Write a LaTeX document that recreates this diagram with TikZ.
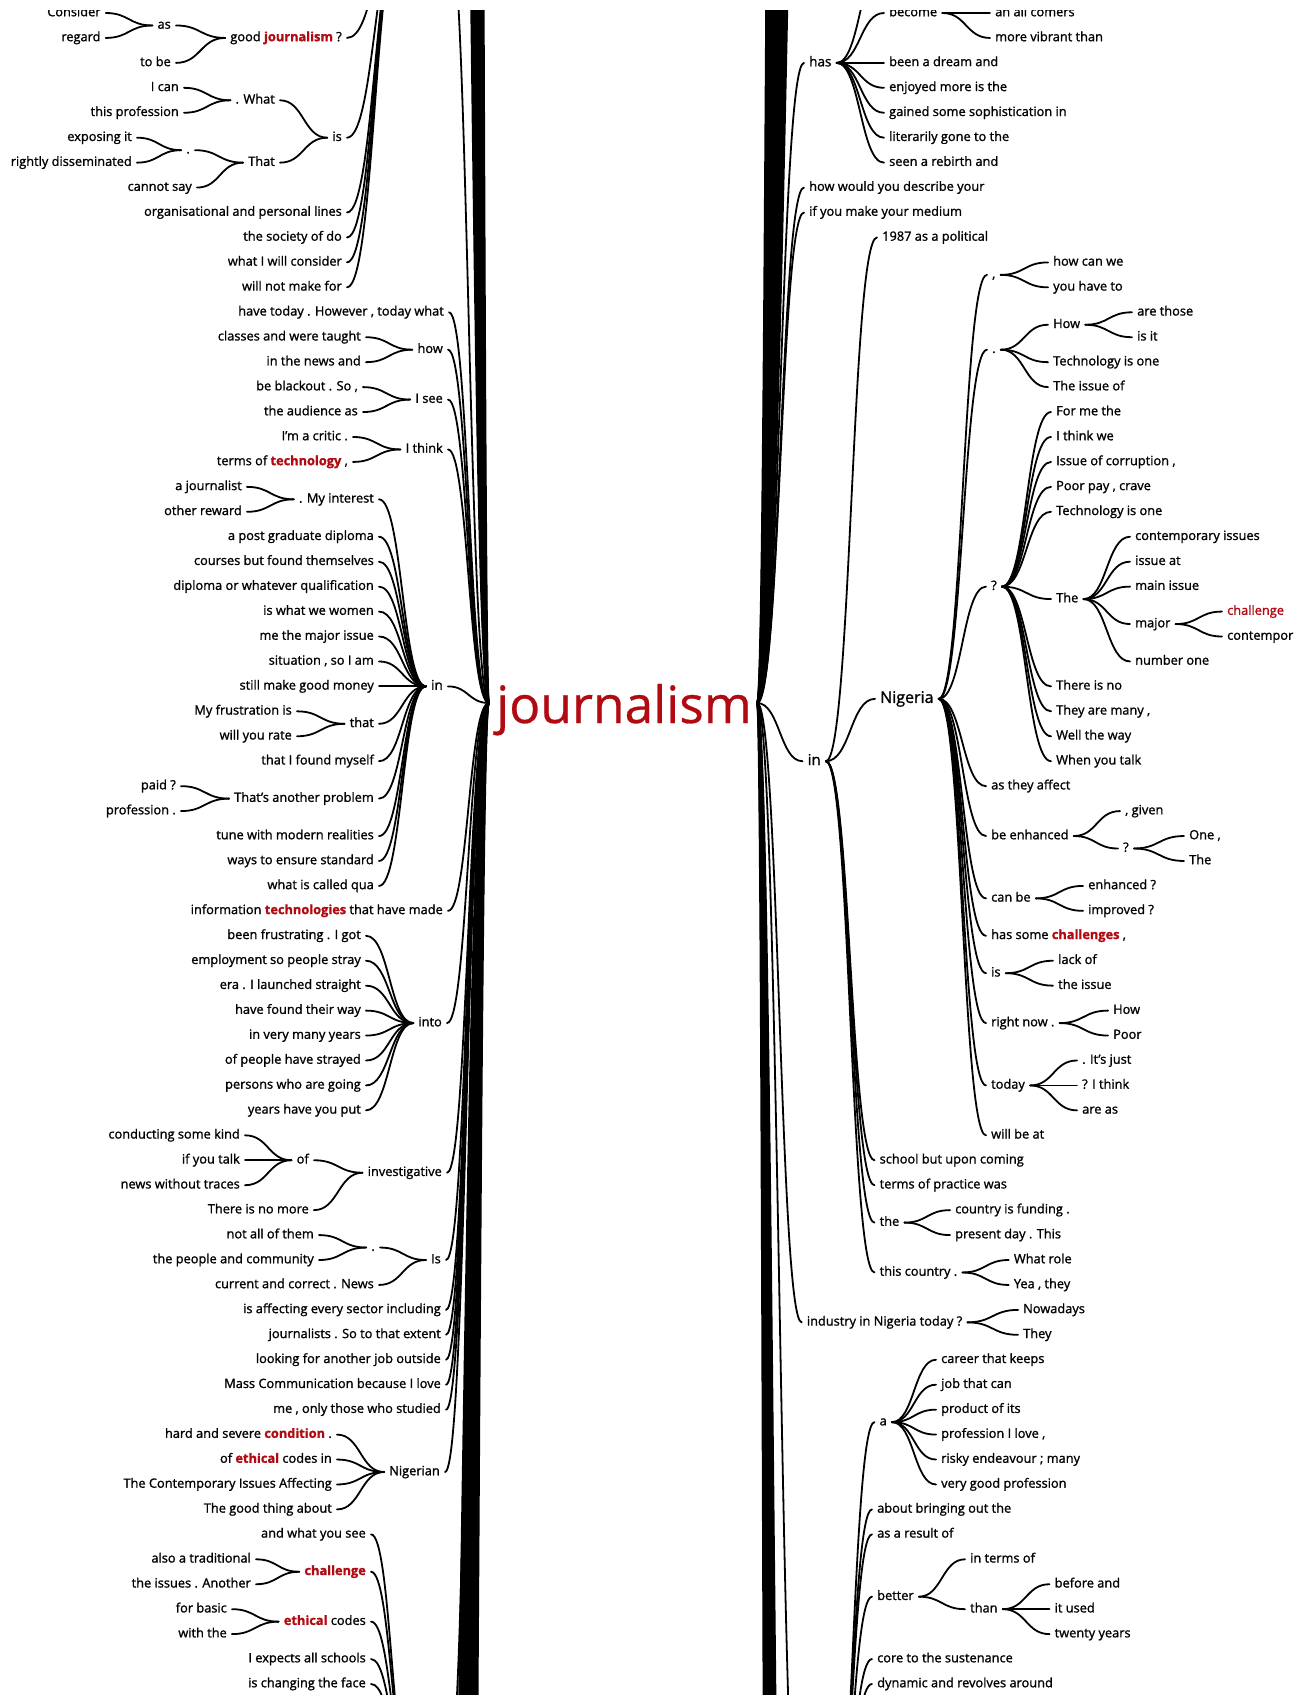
\documentclass[tikz,border=0pt]{standalone}
\usepackage{fontspec}
\setmainfont{Open Sans}
\usetikzlibrary{calc}
\definecolor{jred}{RGB}{178,10,18}
\newcommand\hl[1]{\textcolor{jred}{\bfseries #1}}
\newcommand\R[1]{{13+24.94*(#1)}}
\newcommand\wt[2]{\draw[wire] let \p1=(#1), \p2=(#2) in (\p1) .. controls ({0.5*\x1+0.5*\x2},\y1) and ({0.5*\x1+0.5*\x2},\y2) .. (\p2);}
\tikzset{
 w/.style={font=\fontsize{12.8}{15}\selectfont\addfontfeature{FakeBold=1.3}, inner xsep=5pt, inner ysep=1pt, text height=9.2pt, text depth=2.7pt},
 wl/.style={w, anchor=east},
 wr/.style={w, anchor=west},
 bA/.style={font=\fontsize{13.5}{16}\selectfont\addfontfeature{FakeBold=1.3}, text height=9.7pt, text depth=2.8pt},
 bB/.style={font=\fontsize{15}{18}\selectfont\addfontfeature{FakeBold=1.3}, text height=10.8pt, text depth=3.2pt},
 bC/.style={font=\fontsize{16}{19}\selectfont\addfontfeature{FakeBold=1.3}, text height=11.5pt, text depth=3.4pt},
 wire/.style={line width=1.8pt, line cap=round},
}
\begin{document}
\begin{tikzpicture}[x=1pt,y=-1pt]
\useasboundingbox (0,0) rectangle (1311,1695);
\fill[white] (0,0) rectangle (1311,1695);
\begin{scope}
\clip (0,10) rectangle (1311,1695);
% ---------- root ----------
\node[font=\fontsize{51.5}{55}\selectfont\addfontfeature{FakeBold=0.5}, text=jred, inner sep=0pt, anchor=base west] (root) at (496,723) {journalism};
\coordinate (rootL) at (489,703);
\coordinate (rootR) at (757,703);
% ---------- off-screen anchors ----------
\coordinate (pAl) at (403,-80);
\coordinate (pAr) at (448,-80);
\coordinate (pBl) at (412,1780);
\coordinate (pBr) at (448,1780);
\coordinate (pCl) at (802,1900);
\coordinate (pCr) at (830,1900);
\coordinate (hasX) at (884,-40);
% ---------- left nodes ----------
\node[wl] (L1) at (105.7,\R{0}) {Consider};
\node[wl] (L2) at (105.7,\R{1}) {regard};
\node[wl] (L3) at (176,\R{0.5}) {as};
\node[wl] (L4) at (176,\R{2}) {to be};
\node[wl] (L5) at (347,\R{1}) {good \hl{journalism} ?};
\node[wl] (L6) at (184,\R{3}) {I can};
\node[wl] (L7) at (184,\R{4}) {this profession};
\node[wl] (L8) at (280,\R{3.5}) {. What};
\node[wl] (L9) at (137,\R{5}) {exposing it};
\node[wl] (L10) at (137,\R{6}) {rightly disseminated};
\node[wl] (L11) at (195,\R{5.5}) {.};
\node[wl] (L12) at (280,\R{6}) {That};
\node[wl] (L13) at (197,\R{7}) {cannot say};
\node[wl] (L14) at (347,\R{5}) {is};
\node[wl] (L15) at (347,\R{8}) {organisational and personal lines};
\node[wl] (L16) at (347,\R{9}) {the society of do};
\node[wl] (L17) at (347,\R{10}) {what I will consider};
\node[wl] (L18) at (347,\R{11}) {will not make for};
\node[wl] (L19) at (449,\R{12}) {have today . However , today what};
\node[wl] (L20) at (366,\R{13}) {classes and were taught};
\node[wl] (L21) at (366,\R{14}) {in the news and};
\node[wl] (L22) at (448,\R{13.5}) {how};
\node[wl] (L23) at (363,\R{15}) {be blackout . So ,};
\node[wl] (L24) at (363,\R{16}) {the audience as};
\node[wl] (L25) at (448,\R{15.5}) {I see};
\node[wl] (L26) at (353,\R{17}) {I’m a critic .};
\node[wl] (L27) at (353,\R{18}) {terms of \hl{technology} ,};
\node[wl] (L28) at (448,\R{17.5}) {I think};
\node[wl] (L29) at (247,\R{19}) {a journalist};
\node[wl] (L30) at (247,\R{20}) {other reward};
\node[wl] (L31) at (379,\R{19.5}) {. My interest};
\node[wl] (L32) at (379,\R{21}) {a post graduate diploma};
\node[wl] (L33) at (379,\R{22}) {courses but found themselves};
\node[wl] (L34) at (379,\R{23}) {diploma or whatever qualification};
\node[wl] (L35) at (379,\R{24}) {is what we women};
\node[wl] (L36) at (379,\R{25}) {me the major issue};
\node[wl] (L37) at (379,\R{26}) {situation , so I am};
\node[wl] (L38) at (379,\R{27}) {still make good money};
\node[wl,bA] (L39) at (448,\R{27}) {in};
\node[wl] (L40) at (297,\R{28}) {My frustration is};
\node[wl] (L41) at (297,\R{29}) {will you rate};
\node[wl] (L42) at (379,\R{28.5}) {that};
\node[wl] (L43) at (379,\R{30}) {that I found myself};
\node[wl] (L44) at (181,\R{31}) {paid ?};
\node[wl] (L45) at (181,\R{32}) {profession .};
\node[wl] (L46) at (379,\R{31.5}) {That’s another problem};
\node[wl] (L47) at (379,\R{33}) {tune with modern realities};
\node[wl] (L48) at (379,\R{34}) {ways to ensure standard};
\node[wl] (L49) at (379,\R{35}) {what is called qua};
\node[wl] (L50) at (448,\R{36}) {information \hl{technologies} that have made};
\node[wl] (L51) at (366,\R{37}) {been frustrating . I got};
\node[wl] (L52) at (366,\R{38}) {employment so people stray};
\node[wl] (L53) at (366,\R{39}) {era . I launched straight};
\node[wl] (L54) at (366,\R{40}) {have found their way};
\node[wl] (L55) at (366,\R{41}) {in very many years};
\node[wl] (L56) at (366,\R{42}) {of people have strayed};
\node[wl] (L57) at (366,\R{43}) {persons who are going};
\node[wl] (L58) at (366,\R{44}) {years have you put};
\node[wl] (L59) at (447,\R{40.5}) {into};
\node[wl] (L60) at (245,\R{45}) {conducting some kind};
\node[wl] (L61) at (245,\R{46}) {if you talk};
\node[wl] (L62) at (245,\R{47}) {news without traces};
\node[wl] (L63) at (314,\R{46}) {of};
\node[wl] (L64) at (314,\R{48}) {There is no more};
\node[wl] (L65) at (447,\R{46.5}) {investigative};
\node[wl] (L66) at (319,\R{49}) {not all of them};
\node[wl] (L67) at (319,\R{50}) {the people and community};
\node[wl] (L68) at (380,\R{49.5}) {.};
\node[wl] (L69) at (379,\R{51}) {current and correct . News};
\node[wl] (L70) at (446,\R{50}) {Is};
\node[wl] (L71) at (446,\R{52}) {is affecting every sector including};
\node[wl] (L72) at (446,\R{53}) {journalists . So to that extent};
\node[wl] (L73) at (446,\R{54}) {looking for another job outside};
\node[wl] (L74) at (446,\R{55}) {Mass Communication because I love};
\node[wl] (L75) at (446,\R{56}) {me , only those who studied};
\node[wl] (L76) at (337,\R{57}) {hard and severe \hl{condition} .};
\node[wl] (L77) at (337,\R{58}) {of \hl{ethical} codes in};
\node[wl] (L78) at (337,\R{59}) {The Contemporary Issues Affecting};
\node[wl] (L79) at (337,\R{60}) {The good thing about};
\node[wl] (L80) at (445,\R{58.5}) {Nigerian};
\node[wl] (L81) at (371,\R{61}) {and what you see};
\node[wl] (L82) at (256,\R{62}) {also a traditional};
\node[wl] (L83) at (256,\R{63}) {the issues . Another};
\node[wl] (L84) at (371,\R{62.5}) {\hl{challenge}};
\node[wl] (L85) at (232,\R{64}) {for basic};
\node[wl] (L86) at (232,\R{65}) {with the};
\node[wl] (L87) at (371,\R{64.5}) {\hl{ethical} codes};
\node[wl] (L88) at (371,\R{66}) {I expects all schools};
\node[wl] (L89) at (371,\R{67}) {is changing the face};
% ---------- right nodes ----------
\node[wr,bA] (R1) at (804,\R{2}) {has};
\node[wr] (R2) at (884,\R{0}) {become};
\node[wr] (R3) at (990,\R{0}) {an all comers};
\node[wr] (R4) at (990,\R{1}) {more vibrant than};
\node[wr] (R5) at (884,\R{2}) {been a dream and};
\node[wr] (R6) at (884,\R{3}) {enjoyed more is the};
\node[wr] (R7) at (884,\R{4}) {gained some sophistication in};
\node[wr] (R8) at (884,\R{5}) {literarily gone to the};
\node[wr] (R9) at (884,\R{6}) {seen a rebirth and};
\node[wr] (R10) at (804,\R{7}) {how would you describe your};
\node[wr] (R11) at (804,\R{8}) {if you make your medium};
\node[wr,bB] (R0) at (802.5,\R{30}) {in};
\node[wr] (R12) at (877,\R{9}) {1987 as a political};
\node[wr,bC] (R40) at (875,\R{27.5}) {Nigeria};
\node[wr] (R13) at (987,\R{10.5}) {,};
\node[wr] (R14) at (1048,\R{10}) {how can we};
\node[wr] (R15) at (1048,\R{11}) {you have to};
\node[wr] (R16) at (987,\R{13.5}) {.};
\node[wr] (R17) at (1048,\R{12.5}) {How};
\node[wr] (R18) at (1132,\R{12}) {are those};
\node[wr] (R19) at (1132,\R{13}) {is it};
\node[wr] (R20) at (1048,\R{14}) {Technology is one};
\node[wr] (R21) at (1048,\R{15}) {The issue of};
\node[wr] (R22) at (986,\R{23}) {?};
\node[wr] (R23) at (1051,\R{16}) {For me the};
\node[wr] (R24) at (1051,\R{17}) {I think we};
\node[wr] (R25) at (1051,\R{18}) {Issue of corruption ,};
\node[wr] (R26) at (1051,\R{19}) {Poor pay , crave};
\node[wr] (R27) at (1051,\R{20}) {Technology is one};
\node[wr] (R28) at (1051,\R{23.5}) {The};
\node[wr] (R29) at (1130,\R{21}) {contemporary issues};
\node[wr] (R30) at (1130,\R{22}) {issue at};
\node[wr] (R31) at (1130,\R{23}) {main issue};
\node[wr] (R32) at (1130,\R{24.5}) {major};
\node[wr] (R33) at (1222,\R{24}) {\textcolor{jred}{challenge}};
\node[wr] (R34) at (1222,\R{25}) {contempor};
\node[wr] (R35) at (1130,\R{26}) {number one};
\node[wr] (R36) at (1051,\R{27}) {There is no};
\node[wr] (R37) at (1051,\R{28}) {They are many ,};
\node[wr] (R38) at (1051,\R{29}) {Well the way};
\node[wr] (R39) at (1051,\R{30}) {When you talk};
\node[wr] (R41) at (986,\R{31}) {as they affect};
\node[wr] (R42) at (986,\R{33}) {be enhanced};
\node[wr] (R43) at (1120,\R{32}) {, given};
\node[wr] (R44) at (1118,\R{33.5}) {?};
\node[wr] (R45) at (1184,\R{33}) {One ,};
\node[wr] (R46) at (1184,\R{34}) {The};
\node[wr] (R47) at (986,\R{35.5}) {can be};
\node[wr] (R48) at (1083,\R{35}) {enhanced ?};
\node[wr] (R49) at (1083,\R{36}) {improved ?};
\node[wr] (R50) at (986,\R{37}) {has some \hl{challenges} ,};
\node[wr] (R51) at (986,\R{38.5}) {is};
\node[wr] (R52) at (1053,\R{38}) {lack of};
\node[wr] (R53) at (1053,\R{39}) {the issue};
\node[wr] (R54) at (986,\R{40.5}) {right now .};
\node[wr] (R55) at (1108,\R{40}) {How};
\node[wr] (R56) at (1108,\R{41}) {Poor};
\node[wr] (R57) at (986,\R{43}) {today};
\node[wr] (R58) at (1077,\R{42}) {. It’s just};
\node[wr] (R59) at (1077,\R{43}) {? I think};
\node[wr] (R60) at (1077,\R{44}) {are as};
\node[wr] (R61) at (986,\R{45}) {will be at};
\node[wr] (R62) at (874.5,\R{46}) {school but upon coming};
\node[wr] (R63) at (874.5,\R{47}) {terms of practice was};
\node[wr] (R64) at (874.5,\R{48.5}) {the};
\node[wr] (R65) at (950,\R{48}) {country is funding .};
\node[wr] (R66) at (950,\R{49}) {present day . This};
\node[wr] (R67) at (874.5,\R{50.5}) {this country .};
\node[wr] (R68) at (1008.7,\R{50}) {What role};
\node[wr] (R69) at (1008.7,\R{51}) {Yea , they};
\node[wr] (R70) at (801.7,\R{52.5}) {industry in Nigeria today ?};
\node[wr] (R71) at (1018,\R{52}) {Nowadays};
\node[wr] (R72) at (1018,\R{53}) {They};
\node[wr] (R73) at (874.5,\R{56.5}) {a};
\node[wr] (R74) at (936,\R{54}) {career that keeps};
\node[wr] (R75) at (936,\R{55}) {job that can};
\node[wr] (R76) at (936,\R{56}) {product of its};
\node[wr] (R77) at (936,\R{57}) {profession I love ,};
\node[wr] (R78) at (936,\R{58}) {risky endeavour ; many};
\node[wr] (R79) at (936,\R{59}) {very good profession};
\node[wr] (R80) at (872,\R{60}) {about bringing out the};
\node[wr] (R81) at (872,\R{61}) {as a result of};
\node[wr] (R82) at (872,\R{63.5}) {better};
\node[wr] (R83) at (965,\R{62}) {in terms of};
\node[wr] (R84) at (965,\R{64}) {than};
\node[wr] (R85) at (1049.5,\R{63}) {before and};
\node[wr] (R86) at (1049.5,\R{64}) {it used};
\node[wr] (R87) at (1049.5,\R{65}) {twenty years};
\node[wr] (R88) at (872,\R{66}) {core to the sustenance};
\node[wr] (R89) at (872,\R{67}) {dynamic and revolves around};
% ---------- left connectors ----------
\foreach \c in {L1,L2} {\wt{\c.east}{L3.west}}
\foreach \c in {L3,L4} {\wt{\c.east}{L5.west}}
\foreach \c in {L6,L7} {\wt{\c.east}{L8.west}}
\foreach \c in {L9,L10} {\wt{\c.east}{L11.west}}
\foreach \c in {L11,L13} {\wt{\c.east}{L12.west}}
\foreach \c in {L8,L12} {\wt{\c.east}{L14.west}}
\foreach \c in {L5,L14,L15,L16,L17,L18} {\wt{\c.east}{pAl}}
\foreach \c in {L20,L21} {\wt{\c.east}{L22.west}}
\foreach \c in {L23,L24} {\wt{\c.east}{L25.west}}
\foreach \c in {L26,L27} {\wt{\c.east}{L28.west}}
\foreach \c in {L29,L30} {\wt{\c.east}{L31.west}}
\foreach \c in {L40,L41} {\wt{\c.east}{L42.west}}
\foreach \c in {L44,L45} {\wt{\c.east}{L46.west}}
\foreach \c in {L31,L32,L33,L34,L35,L36,L37,L38,L42,L43,L46,L47,L48,L49} {\wt{\c.east}{L39.west}}
\foreach \c in {L51,L52,L53,L54,L55,L56,L57,L58} {\wt{\c.east}{L59.west}}
\foreach \c in {L60,L61,L62} {\wt{\c.east}{L63.west}}
\foreach \c in {L63,L64} {\wt{\c.east}{L65.west}}
\foreach \c in {L66,L67} {\wt{\c.east}{L68.west}}
\foreach \c in {L68,L69} {\wt{\c.east}{L70.west}}
\foreach \c in {L76,L77,L78,L79} {\wt{\c.east}{L80.west}}
\foreach \c in {L82,L83} {\wt{\c.east}{L84.west}}
\foreach \c in {L85,L86} {\wt{\c.east}{L87.west}}
\foreach \c in {L81,L84,L87,L88,L89} {\wt{\c.east}{pBl}}
\foreach \c in {L19,L22,L25,L28,L39,L50,L59,L65,L70,L71,L72,L73,L74,L75,L80} {\wt{\c.east}{rootL}}
\wt{pAr}{rootL}
\wt{pBr}{rootL}
% ---------- right connectors ----------
\foreach \c in {R1,R10,R11,R0,R70} {\wt{rootR}{\c.west}}
\wt{rootR}{pCl}
\foreach \c in {R2,R5,R6,R7,R8,R9} {\wt{R1.east}{\c.west}}
\wt{R1.east}{hasX}
\foreach \c in {R3,R4} {\wt{R2.east}{\c.west}}
\foreach \c in {R12,R40,R62,R63,R64,R67} {\wt{R0.east}{\c.west}}
\foreach \c in {R13,R16,R22,R41,R42,R47,R50,R51,R54,R57,R61} {\wt{R40.east}{\c.west}}
\foreach \c in {R14,R15} {\wt{R13.east}{\c.west}}
\foreach \c in {R17,R20,R21} {\wt{R16.east}{\c.west}}
\foreach \c in {R18,R19} {\wt{R17.east}{\c.west}}
\foreach \c in {R23,R24,R25,R26,R27,R28,R36,R37,R38,R39} {\wt{R22.east}{\c.west}}
\foreach \c in {R29,R30,R31,R32,R35} {\wt{R28.east}{\c.west}}
\foreach \c in {R33,R34} {\wt{R32.east}{\c.west}}
\foreach \c in {R43,R44} {\wt{R42.east}{\c.west}}
\foreach \c in {R45,R46} {\wt{R44.east}{\c.west}}
\foreach \c in {R48,R49} {\wt{R47.east}{\c.west}}
\foreach \c in {R52,R53} {\wt{R51.east}{\c.west}}
\foreach \c in {R55,R56} {\wt{R54.east}{\c.west}}
\foreach \c in {R58,R59,R60} {\wt{R57.east}{\c.west}}
\foreach \c in {R65,R66} {\wt{R64.east}{\c.west}}
\foreach \c in {R68,R69} {\wt{R67.east}{\c.west}}
\foreach \c in {R71,R72} {\wt{R70.east}{\c.west}}
\foreach \c in {R73,R80,R81,R82,R88,R89} {\wt{pCr}{\c.west}}
\foreach \c in {R74,R75,R76,R77,R78,R79} {\wt{R73.east}{\c.west}}
\foreach \c in {R83,R84} {\wt{R82.east}{\c.west}}
\foreach \c in {R85,R86,R87} {\wt{R84.east}{\c.west}}
% ---------- bundles to branches beyond the frame ----------
\foreach \xx [count=\k] in {452,454,...,478} {\coordinate (lt\k) at (\xx,-800); \wt{lt\k}{rootL}}
\foreach \xx [count=\k] in {434,436,...,468} {\coordinate (lb\k) at (\xx,2400); \wt{lb\k}{rootL}}
\foreach \xx [count=\k] in {776,778,...,820} {\coordinate (rt\k) at (\xx,-800); \wt{rootR}{rt\k}}
\foreach \xx [count=\k] in {769,771,...,791} {\coordinate (rb\k) at (\xx,2400); \wt{rootR}{rb\k}}
\end{scope}
\end{tikzpicture}
\end{document}
